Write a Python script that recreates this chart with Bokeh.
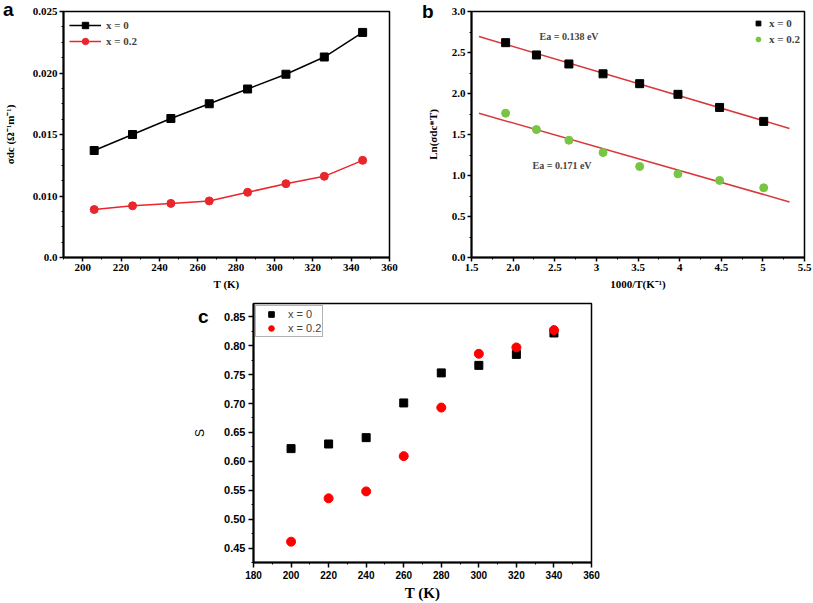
import numpy as np
from bokeh.plotting import figure
from bokeh.layouts import column, row
from bokeh.models import FixedTicker, Label, Spacer, Div
from bokeh.embed import file_html
from bokeh.resources import INLINE

# ---------------- data ----------------
# panel a : sigma_dc vs T
T_a = [206, 226, 246, 266, 286, 306, 326, 346]
sigma_x0 = [0.0137, 0.0150, 0.0163, 0.0175, 0.0187, 0.0199, 0.0213, 0.0233]
sigma_x02 = [0.0089, 0.0092, 0.0094, 0.0096, 0.0103, 0.0110, 0.0116, 0.0129]
a_xticks = [200, 220, 240, 260, 280, 300, 320, 340, 360]
a_xlabels = ["200", "220", "240", "260", "280", "300", "320", "340", "360"]
a_yticks = [0.005, 0.010, 0.015, 0.020, 0.025]
a_ylabels = ["0.0", "0.010", "0.015", "0.020", "0.025"]

# panel b : Arrhenius plot
invT = [1.91, 2.28, 2.67, 3.08, 3.52, 3.98, 4.48, 5.01]
ln_x0 = [2.62, 2.47, 2.36, 2.24, 2.12, 1.99, 1.83, 1.66]
ln_x02 = [1.76, 1.56, 1.43, 1.28, 1.11, 1.02, 0.94, 0.85]
fit_range = [1.59, 5.32]
b_xticks = [1.5, 2.0, 2.5, 3.0, 3.5, 4.0, 4.5, 5.0, 5.5]
b_xlabels = ["1.5", "2.0", "2.5", "3", "3.5", "4", "4.5", "5", "5.5"]
b_yticks = [0.0, 0.5, 1.0, 1.5, 2.0, 2.5, 3.0]
b_ylabels = ["0.0", "0.5", "1.0", "1.5", "2.0", "2.5", "3.0"]
ea_texts = ["Ea = 0.138 eV", "Ea = 0.171 eV"]

# panel c : S vs T
T_c = [200, 220, 240, 260, 280, 300, 320, 340]
S_x0 = [0.622, 0.630, 0.641, 0.701, 0.753, 0.766, 0.785, 0.822]
S_x02 = [0.461, 0.536, 0.548, 0.609, 0.693, 0.786, 0.797, 0.827]
c_xticks = [180, 200, 220, 240, 260, 280, 300, 320, 340, 360]
c_xlabels = ["180", "200", "220", "240", "260", "280", "300", "320", "340", "360"]
c_yticks = [0.45, 0.50, 0.55, 0.60, 0.65, 0.70, 0.75, 0.80, 0.85]
c_ylabels = ["0.45", "0.50", "0.55", "0.60", "0.65", "0.70", "0.75", "0.80", "0.85"]

panel_letters = ["a", "b", "c"]

SERIF = "Liberation Serif"
SANS = "Liberation Sans"


def style(p, font, tick_size, label_size, x_tick_size=None):
    p.outline_line_color = "black"
    p.outline_line_width = 1.5
    p.xgrid.visible = False
    p.ygrid.visible = False
    p.background_fill_color = "white"
    p.border_fill_color = "white"
    for ax in (p.xaxis[0], p.yaxis[0]):
        ax.axis_line_width = 2
        ax.axis_line_color = "black"
        ax.major_tick_in = 0
        ax.major_tick_out = 4
        ax.minor_tick_in = 0
        ax.minor_tick_out = 2
        ax.major_tick_line_width = 1.5
        ax.minor_tick_line_width = 1
        ax.major_label_text_font = font
        ax.major_label_text_font_style = "bold"
        ax.major_label_text_font_size = tick_size
        ax.major_label_text_color = "black"
        ax.major_label_standoff = 2
        ax.axis_label_text_font = SERIF
        ax.axis_label_text_font_style = "bold"
        ax.axis_label_text_font_size = label_size
        ax.axis_label_text_color = "black"
        ax.axis_label_standoff = 4
    if x_tick_size:
        p.xaxis[0].major_label_text_font_size = x_tick_size


def overrides(ticks, labels):
    return {t: l for t, l in zip(ticks, labels)}


def letter_div(text, natural_x, target_x, top):
    w = 14
    ml = target_x - natural_x
    return Div(text=text, width=w, height=20, margin=(top, -(ml + w), 0, ml),
               styles={"font-family": SANS, "font-size": "19px", "font-weight": "bold",
                       "line-height": "19px", "color": "black"})


# ---------------- panel a ----------------
pa = figure(width=400, height=294, x_range=(190, 360), y_range=(0.005, 0.025),
            output_backend="svg", toolbar_location=None,
            min_border_left=60, min_border_right=11, min_border_top=11, min_border_bottom=37)
style(pa, SERIF, "11px", "11px")
pa.xaxis.ticker = FixedTicker(ticks=a_xticks, minor_ticks=list(np.arange(190, 361, 10)))
pa.yaxis.ticker = FixedTicker(ticks=a_yticks, minor_ticks=list(np.arange(0.005, 0.02501, 0.00125)))
pa.xaxis.major_label_overrides = overrides(a_xticks, a_xlabels)
pa.yaxis.major_label_overrides = overrides(a_yticks, a_ylabels)
pa.xaxis.axis_label = "T (K)"
pa.yaxis.axis_label = "σdc (Ω⁻¹m⁻¹)"
pa.yaxis.axis_label_standoff = 14
pa.line(T_a, sigma_x0, line_color="black", line_width=1.5, legend_label="x = 0")
pa.scatter(T_a, sigma_x0, marker="square", size=8, color="black", legend_label="x = 0")
pa.line(T_a, sigma_x02, line_color="#e8262b", line_width=1.5, legend_label="x = 0.2")
pa.scatter(T_a, sigma_x02, marker="circle", size=8, color="#e8262b", legend_label="x = 0.2")
pa.legend.location = "top_left"
pa.legend.margin = 6
pa.legend.padding = 6
pa.legend.spacing = 0
pa.legend.glyph_width = 32
pa.legend.glyph_height = 16
pa.legend.label_standoff = 5
pa.legend.border_line_color = None
pa.legend.background_fill_alpha = 0
pa.legend.label_text_font = SERIF
pa.legend.label_text_font_style = "bold"
pa.legend.label_text_font_size = "11px"

# ---------------- panel b ----------------
pb = figure(width=413, height=294, x_range=(1.5, 5.5), y_range=(0.0, 3.0),
            output_backend="svg", toolbar_location=None,
            min_border_left=71, min_border_right=9, min_border_top=10, min_border_bottom=37)
style(pb, SERIF, "11px", "11px")
pb.xaxis.ticker = FixedTicker(ticks=b_xticks, minor_ticks=list(np.arange(1.5, 5.51, 0.25)))
pb.yaxis.ticker = FixedTicker(ticks=b_yticks, minor_ticks=list(np.arange(0.0, 3.01, 0.25)))
pb.xaxis.major_label_overrides = overrides(b_xticks, b_xlabels)
pb.yaxis.major_label_overrides = overrides(b_yticks, b_ylabels)
pb.xaxis.axis_label = "1000/T(K⁻¹)"
pb.yaxis.axis_label = "Ln(σdc*T)"
pb.yaxis.axis_label_standoff = 10

fx = np.array(fit_range)
k0, b0 = np.polyfit(invT, ln_x0, 1)
k2, b2 = np.polyfit(invT, ln_x02, 1)
pb.line(fx, k0 * fx + b0, line_color="#d9383a", line_width=1.5)
pb.line(fx, k2 * fx + b2, line_color="#d9383a", line_width=1.5)
pb.scatter(invT, ln_x0, marker="square", size=8, color="black", legend_label="x = 0")
pb.scatter(invT, ln_x02, marker="circle", size=8, color="#78c443", legend_label="x = 0.2")
pb.legend.location = "top_right"
pb.legend.margin = 4
pb.legend.padding = 2
pb.legend.spacing = 0
pb.legend.glyph_width = 12
pb.legend.glyph_height = 16
pb.legend.label_standoff = 5
pb.legend.border_line_color = None
pb.legend.background_fill_alpha = 0
pb.legend.label_text_font = SERIF
pb.legend.label_text_font_style = "bold"
pb.legend.label_text_font_size = "11px"
pb.add_layout(Label(x=2.317, y=2.70, text=ea_texts[0], text_font=SERIF, text_font_style="bold",
                    text_font_size="10px", text_baseline="middle"))
pb.add_layout(Label(x=2.233, y=1.117, text=ea_texts[1], text_font=SERIF, text_font_style="bold",
                    text_font_size="10px", text_baseline="middle"))

# ---------------- panel c ----------------
pc = figure(width=411, height=309, x_range=(180, 360), y_range=(0.425, 0.873),
            output_backend="svg", toolbar_location=None,
            min_border_left=60, min_border_right=10, min_border_top=9, min_border_bottom=41)
style(pc, SANS, "11px", "15px", x_tick_size="10px")
pc.xaxis.major_tick_out = 5
pc.yaxis.major_tick_out = 5
pc.xaxis.major_label_standoff = 3
pc.yaxis.major_label_standoff = 3
pc.xaxis.ticker = FixedTicker(ticks=c_xticks, minor_ticks=list(np.arange(180, 361, 10)))
pc.yaxis.ticker = FixedTicker(ticks=c_yticks, minor_ticks=list(np.arange(0.425, 0.8751, 0.025)))
pc.xaxis.major_label_overrides = overrides(c_xticks, c_xlabels)
pc.yaxis.major_label_overrides = overrides(c_yticks, c_ylabels)
pc.xaxis.axis_label = "T (K)"
pc.xaxis.axis_label_standoff = 3
pc.yaxis.axis_label = "S"
pc.yaxis.axis_label_text_font = SANS
pc.yaxis.axis_label_text_font_style = "normal"
pc.yaxis.axis_label_text_font_size = "12px"
pc.yaxis.axis_label_standoff = 14
pc.scatter(T_c, S_x0, marker="square", size=8, color="black", legend_label="x = 0")
pc.scatter(T_c, S_x02, marker="circle", size=9, color="#ff0000", legend_label="x = 0.2")
pc.legend.location = "top_left"
pc.legend.margin = 2
pc.legend.padding = 1
pc.legend.spacing = 0
pc.legend.glyph_width = 28
pc.legend.glyph_height = 14
pc.legend.label_standoff = 3
pc.legend.border_line_color = "#666666"
pc.legend.border_line_width = 1
pc.legend.background_fill_color = "white"
pc.legend.label_text_font = SANS
pc.legend.label_text_font_size = "11px"
pc.legend.label_height = 12

# panel letters as overlaid text blocks (placed after each row's figures)
div_a = letter_div(panel_letters[0], 813, 3, 0)
div_b = letter_div(panel_letters[1], 813, 422, 2)
div_c = letter_div(panel_letters[2], 601, 198, 13)

layout = column(row(pa, pb, div_a, div_b),
                row(Spacer(width=190, height=309), pc, div_c))

open("out.html", "w").write(file_html(layout, INLINE))
